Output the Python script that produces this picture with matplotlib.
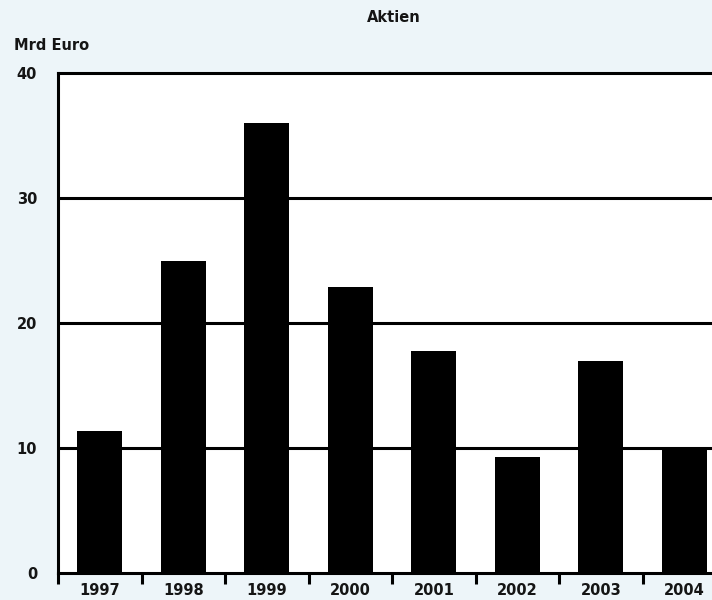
import matplotlib.pyplot as plt
import numpy as np

years = ['1997', '1998', '1999', '2000', '2001', '2002', '2003', '2004']
values = [11.4, 25.0, 36.0, 22.9, 17.8, 9.3, 17.0, 10.1]
yticks = [0, 10, 20, 30, 40]

bg = '#edf5f9'
ink = '#151515'
lw = 2.2

plt.rcParams['font.family'] = ['DejaVu Sans']

fig = plt.figure(figsize=(7.12, 6.0), dpi=100, facecolor=bg)
ax = fig.add_axes([58 / 712, 27 / 600, 654 / 712, 500 / 600])
ax.set_facecolor('white')

x = np.arange(len(years))
ax.bar(x, values, width=0.54, color='black', zorder=3)

ax.set_xlim(-0.5, 7.33)
ax.set_ylim(0, 40)

# horizontal rules at 10, 20, 30
for y in yticks[1:-1]:
    ax.axhline(y, color='black', lw=lw, zorder=1)

for side in ['top', 'left', 'bottom']:
    ax.spines[side].set_linewidth(lw)
    ax.spines[side].set_color('black')
ax.spines['right'].set_visible(False)

# year labels in the middle, small ticks between categories
ax.set_xticks(x)
ax.set_xticklabels(years, fontsize=10.5, fontweight='bold', color=ink)
ax.tick_params(axis='x', which='major', length=0, pad=7)
ax.set_xticks(np.arange(-0.5, 7.5, 1.0), minor=True)
ax.tick_params(axis='x', which='minor', length=8, width=lw, direction='out', color='black')

ax.set_yticks(yticks)
ax.set_yticklabels([str(v) for v in yticks], fontsize=10.5, fontweight='bold', color=ink)
ax.tick_params(axis='y', length=0, pad=15)

fig.text(394 / 712, 1 - 17 / 600, 'Aktien', ha='center', va='center',
         fontsize=10.5, fontweight='bold', color=ink)
fig.text(14 / 712, 1 - 45 / 600, 'Mrd Euro', ha='left', va='center',
         fontsize=10.5, fontweight='bold', color=ink)

fig.savefig('out.png', dpi=100, facecolor=bg)
